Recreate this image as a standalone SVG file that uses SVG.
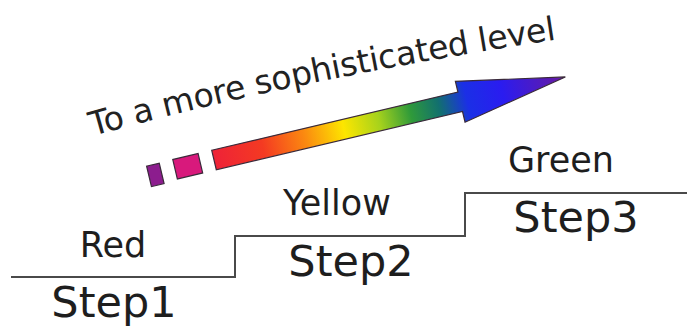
<svg xmlns="http://www.w3.org/2000/svg" width="687" height="326" viewBox="0 0 687 326">
  <style>
    .lbl { font-family: "DejaVu Sans", Verdana, sans-serif; fill: #1e1e1e; text-anchor: middle; }
    .top { font-size: 35px; }
    .step { font-size: 43px; }
    .stair { fill: none; stroke: #4a4a4a; stroke-width: 2; }
    .motto { font-family: "DejaVu Sans", Verdana, sans-serif; font-size: 33px; fill: #222; }
    .edge { stroke: #3a2a3a; stroke-width: 1.2; stroke-linejoin: miter; }
  </style>
  <defs>
    <linearGradient id="rainbow" gradientUnits="userSpaceOnUse" x1="0" y1="0" x2="361" y2="0">
      <stop offset="0" stop-color="#ee2238"/>
      <stop offset="0.14" stop-color="#f43a22"/>
      <stop offset="0.26" stop-color="#fb8a10"/>
      <stop offset="0.37" stop-color="#fde600"/>
      <stop offset="0.47" stop-color="#a6d21c"/>
      <stop offset="0.56" stop-color="#2f9a3a"/>
      <stop offset="0.64" stop-color="#12706e"/>
      <stop offset="0.72" stop-color="#1b2fe6"/>
      <stop offset="0.82" stop-color="#2a1cf0"/>
      <stop offset="1" stop-color="#6a1aa0"/>
    </linearGradient>
    <path id="arc" d="M 93,136 Q 290,80 567,38"/>
  </defs>

  <!-- staircase outline -->
  <g id="connectors">
    <path class="stair" d="M 11,277 H 235 V 236 H 465 V 193 H 687"/>
  </g>

  <!-- progress arrow with trailing squares -->
  <g id="arrow" transform="translate(214,160) rotate(-13.3)">
    <rect class="edge" x="-67" y="-9.5" width="13" height="21" fill="#8c1d8e"/>
    <rect class="edge" x="-40" y="-10" width="26" height="20" fill="#d8197c"/>
    <path class="edge" fill="url(#rainbow)" d="M 0,-10 L 253,-10 L 253,-21 L 361,0 L 253,21 L 253,10 L 0,10 Z"/>
  </g>

  <g id="motto">
    <text class="motto"><textPath href="#arc" textLength="474" lengthAdjust="spacing">To a more sophisticated level</textPath></text>
  </g>

  <g id="step1">
    <text class="lbl top" x="113" y="257">Red</text>
    <text class="lbl step" x="114" y="317">Step1</text>
  </g>
  <g id="step2">
    <text class="lbl top" x="337" y="215">Yellow</text>
    <text class="lbl step" x="351" y="276">Step2</text>
  </g>
  <g id="step3">
    <text class="lbl top" x="561" y="172">Green</text>
    <text class="lbl step" x="576" y="232">Step3</text>
  </g>
</svg>
